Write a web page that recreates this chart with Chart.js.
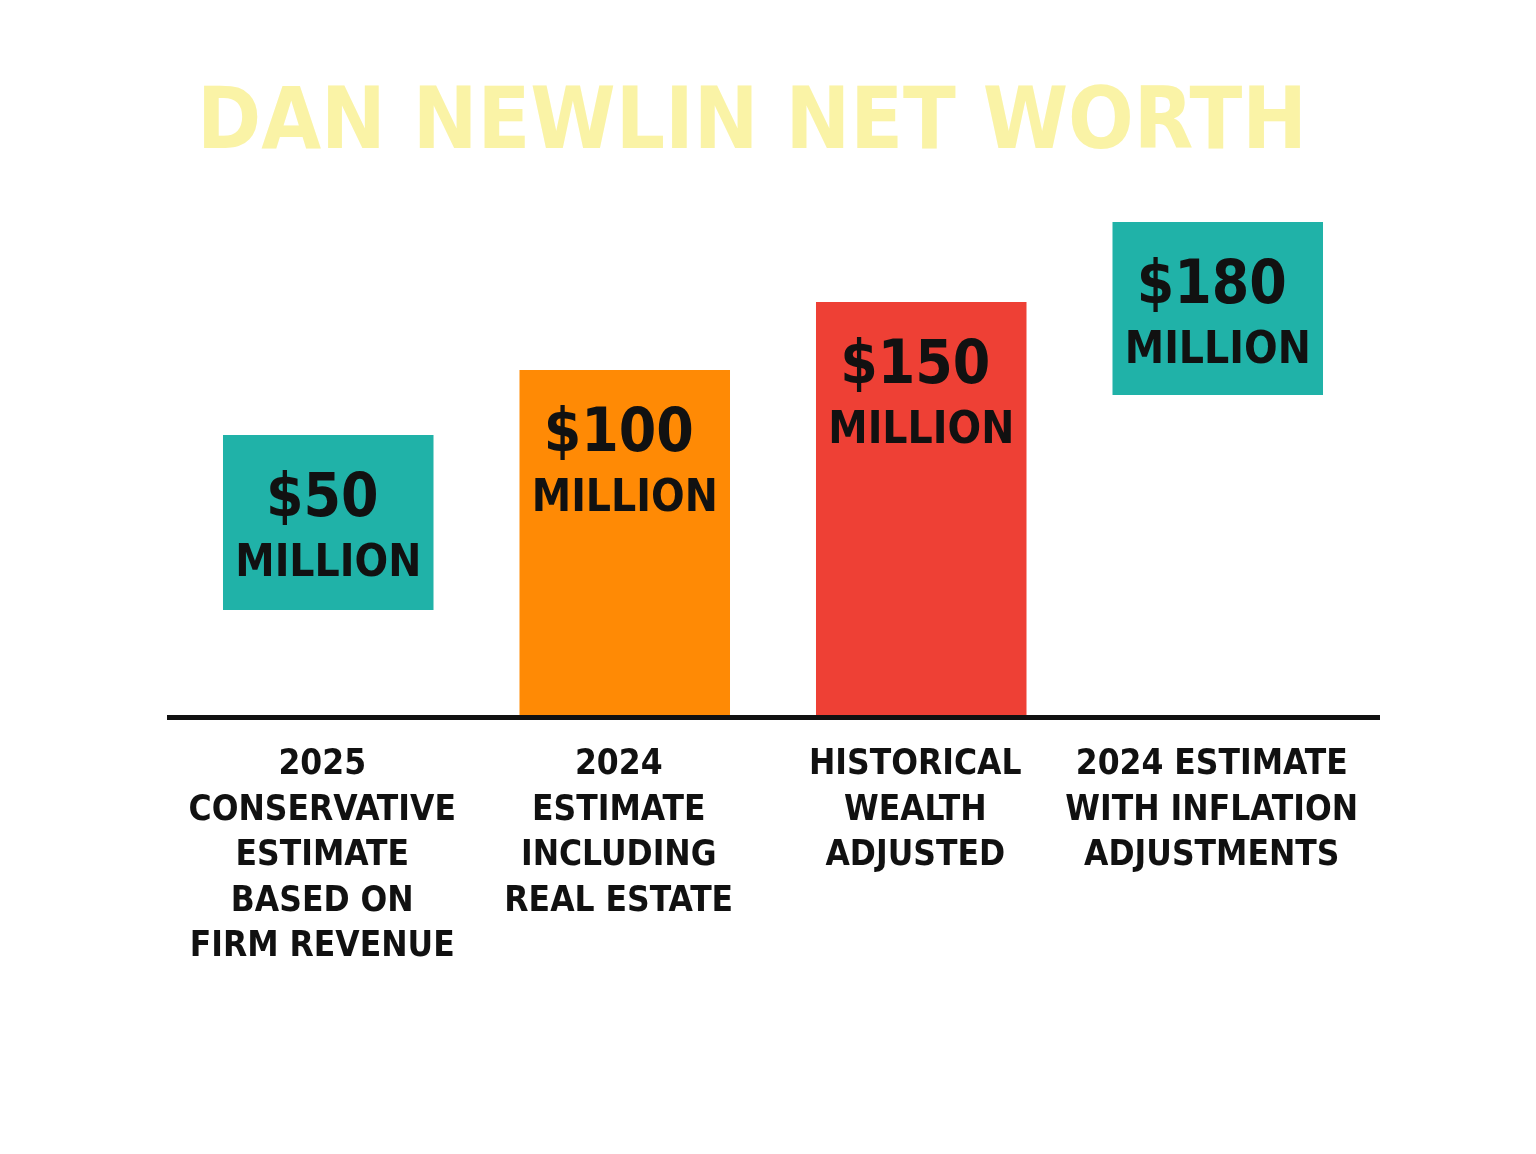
<!DOCTYPE html>
<html><head><meta charset="utf-8">
<script src="https://cdn.jsdelivr.net/npm/chart.js@4"></script>
<style>html,body{margin:0;padding:0;background:#fff}#w{width:1536px;height:1154px}</style>
</head><body><div id="w"><canvas id="c"></canvas></div>
<script>
const categories = [
  ["2025","CONSERVATIVE","ESTIMATE","BASED ON","FIRM REVENUE"],
  ["2024","ESTIMATE","INCLUDING","REAL ESTATE"],
  ["HISTORICAL","WEALTH","ADJUSTED"],
  ["2024 ESTIMATE","WITH INFLATION","ADJUSTMENTS"]
];
const valueLabels = [["$50","MILLION"],["$100","MILLION"],["$150","MILLION"],["$180","MILLION"]];
const barStart = [107, 0, 0, 322];
const barEnd = [282, 347, 415, 495];
const colors = ["#20B2A8","#FF8A05","#EE4035","#20B2A8"];
const title = "DAN NEWLIN NET WORTH";

const FONT = "'DejaVu Sans Condensed','DejaVu Sans',sans-serif";
const deco = {
  id:'deco',
  afterDatasetsDraw(chart){
    const {ctx, chartArea:a} = chart;
    ctx.save();
    ctx.fillStyle = "#111";
    ctx.fillRect(a.left-13, a.bottom-2, a.right-a.left+27, 5);
    const meta = chart.getDatasetMeta(0);
    ctx.textAlign = "center"; ctx.textBaseline = "middle";
    meta.data.forEach((bar,i)=>{
      const top = bar.y;
      ctx.fillStyle = "#111";
      ctx.font = "bold 60px " + FONT;
      ctx.fillText(valueLabels[i][0], bar.x-6, top+65);
      ctx.font = "bold 44px " + FONT;
      ctx.fillText(valueLabels[i][1], bar.x, top+130);
      ctx.font = "bold 35px " + FONT;
      categories[i].forEach((l,j)=>ctx.fillText(l, bar.x-6, a.bottom+48+j*45.5));
    });
    ctx.fillStyle = "#FAF3A6";
    ctx.font = "bold 86px " + FONT;
    ctx.fillText(title, 752, 126);
    ctx.restore();
  }
};
new Chart(document.getElementById('c'), {
  type:'bar',
  data:{labels:categories.map(c=>c.join(' ')),
    datasets:[{data:barStart.map((s,i)=>[s,barEnd[i]]), backgroundColor:colors, borderWidth:0,
      barPercentage:0.71, categoryPercentage:1}]},
  options:{responsive:true, maintainAspectRatio:false, animation:false,
    layout:{padding:{left:180,right:170,top:217,bottom:437}},
    plugins:{legend:{display:false},tooltip:{enabled:false}},
    scales:{x:{display:false},y:{display:false,min:0,max:500}}},
  plugins:[deco]
});
</script></body></html>
